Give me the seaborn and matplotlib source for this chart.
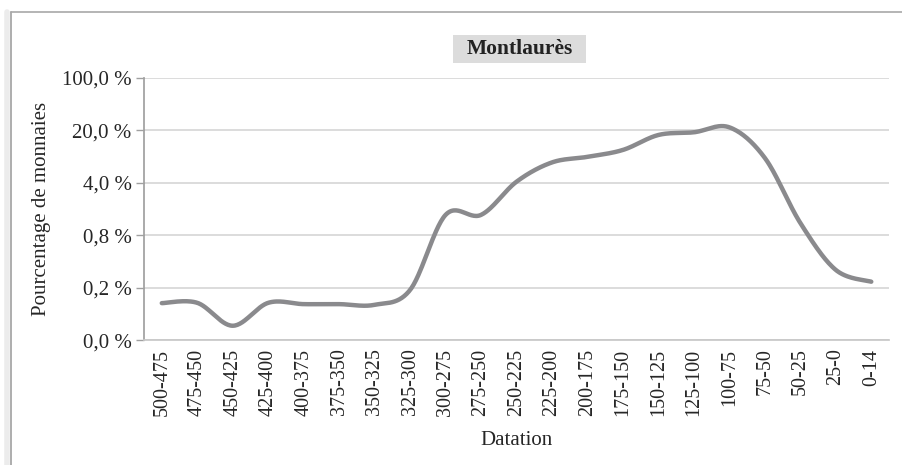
import matplotlib
matplotlib.use("Agg")
import matplotlib.pyplot as plt
import seaborn as sns
import numpy as np
import pandas as pd
from matplotlib.lines import Line2D
from matplotlib.patches import Rectangle

# periods (x categories) and share of coins in % (log base-5 axis)
periods = ["500-475", "475-450", "450-425", "425-400", "400-375", "375-350",
           "350-325", "325-300", "300-275", "275-250", "250-225", "225-200",
           "200-175", "175-150", "150-125", "125-100", "100-75", "75-50",
           "50-25", "25-0", "0-14"]
pct = [0.100, 0.101, 0.050, 0.101, 0.097, 0.097, 0.095, 0.150, 1.50, 1.50,
       4.15, 7.5, 8.9, 11.0, 17.4, 18.9, 22.0, 8.6, 1.17, 0.277, 0.193]
ytick_vals = [0.032, 0.16, 0.8, 4.0, 20.0, 100.0]
ytick_labels = ["0,0 %", "0,2 %", "0,8 %", "4,0 %", "20,0 %", "100,0 %"]


def smooth(xs, ys, n=30):
    # Excel-like smoothed line: Catmull-Rom through the points
    xs = np.asarray(xs, float)
    ys = np.asarray(ys, float)
    px = np.concatenate([[xs[0]], xs, [xs[-1]]])
    py = np.concatenate([[ys[0]], ys, [ys[-1]]])
    t = np.linspace(0, 1, n, endpoint=False)
    ox, oy = [], []
    for i in range(1, len(px) - 2):
        for arr, out in ((px, ox), (py, oy)):
            p0, p1, p2, p3 = arr[i - 1], arr[i], arr[i + 1], arr[i + 2]
            out.extend(0.5 * (2 * p1 + (-p0 + p2) * t
                              + (2 * p0 - 5 * p1 + 4 * p2 - p3) * t ** 2
                              + (-p0 + 3 * p1 - 3 * p2 + p3) * t ** 3))
    ox.append(xs[-1])
    oy.append(ys[-1])
    return np.array(ox), np.array(oy)


sns.set_theme(style="white")
plt.rcParams['font.family'] = ['Liberation Serif', 'DejaVu Serif']

fig = plt.figure(figsize=(9.02, 4.65), dpi=100)
ax = fig.add_axes([0.1597, 0.2682, 0.8259, 0.5641])

sx, sy = smooth(np.arange(len(periods)), np.log(pct) / np.log(5))
df = pd.DataFrame({"x": sx, "y": 5 ** sy})
sns.lineplot(data=df, x="x", y="y", ax=ax, color="#8a8a8d", linewidth=3.2,
             sort=False, estimator=None, solid_capstyle="round")

ax.set_yscale("log", base=5)
ax.set_ylim(ytick_vals[0], ytick_vals[-1])
ax.set_yticks(ytick_vals)
ax.set_yticklabels(ytick_labels)
ax.minorticks_off()
ax.set_xlim(-0.5, len(periods) - 0.5)
ax.set_xticks(range(len(periods)))
ax.set_xticklabels(periods, rotation=90)

ax.grid(axis="y", color="#d2d2d2", linewidth=1.1)
ax.grid(axis="x", visible=False)
for s in ["top", "right"]:
    ax.spines[s].set_visible(False)
ax.spines["left"].set_color("#a0a0a0")
ax.spines["bottom"].set_color("#c8c8c8")
ax.tick_params(axis="y", length=6, width=1, color="#a0a0a0", labelsize=15,
               pad=3, left=True)
ax.tick_params(axis="x", length=0, labelsize=14.5, pad=6)

ax.set_xlabel("Datation", fontsize=15, labelpad=11)
ax.set_ylabel("Pourcentage de monnaies", fontsize=15, labelpad=8)

# title in a light grey box
W, H = 902, 465
fig.add_artist(Rectangle((453 / W, 1 - 63 / H), 133 / W, 28 / H,
                         transform=fig.transFigure, fc="#dcdcdc", ec="none"))
fig.text(519.5 / W, 1 - 49 / H, "Montlaurès", ha="center", va="center",
         fontsize=15.5, fontweight="bold", color="#222222")

# outer frame (top and left edges only)
fx, fy = 10.5 / W, 1 - 12 / H
fig.add_artist(Line2D([fx - 0.004, fx - 0.004], [0, fy], color="#ececec",
                      linewidth=4, transform=fig.transFigure))
fig.add_artist(Line2D([fx, fx], [0, fy], color="#a0a0a0", linewidth=1.2,
                      transform=fig.transFigure))
fig.add_artist(Line2D([fx, 1], [fy, fy], color="#a8a8a8", linewidth=1.2,
                      transform=fig.transFigure))

fig.savefig("out.png", dpi=100)
